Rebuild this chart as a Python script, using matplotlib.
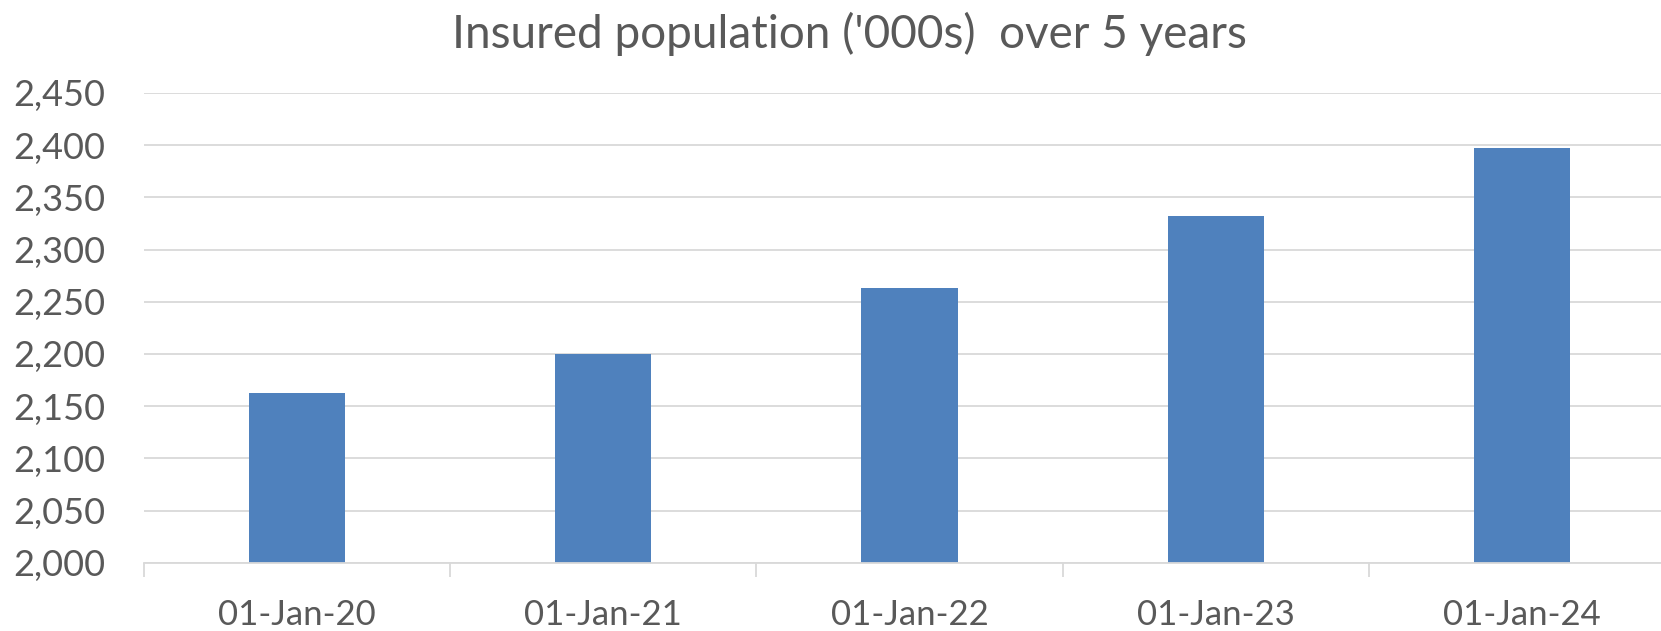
import matplotlib
matplotlib.use("Agg")
import matplotlib.pyplot as plt
from matplotlib.ticker import FuncFormatter, FixedLocator

categories = ["01-Jan-20", "01-Jan-21", "01-Jan-22", "01-Jan-23", "01-Jan-24"]
values = [2163, 2200, 2263, 2332, 2397]
title = "Insured population ('000s)  over 5 years"

plt.rcParams['font.family'] = ['Lato', 'DejaVu Sans']
text_color = "#595959"
grid_color = "#d9d9d9"
bar_color = "#4f81bd"

fig = plt.figure(figsize=(16.61, 6.31), dpi=100)
ax = fig.add_axes([144/1661, 1-562.7/631, 1531/1661, (562.7-93)/631])

x = list(range(len(categories)))
ax.bar(x, values, width=0.314, color=bar_color, zorder=3)

ax.set_xlim(-0.5, len(categories)-0.5)
ax.set_ylim(2000, 2450)
ax.set_yticks(range(2000, 2451, 50))
ax.yaxis.set_major_formatter(FuncFormatter(lambda v, p: f"{int(v):,}"))
ax.grid(axis='y', color=grid_color, linewidth=1.3, zorder=0)

ax.set_xticks(x)
ax.set_xticklabels(categories)
ax.xaxis.set_minor_locator(FixedLocator([i - 0.5 for i in range(len(categories)+1)]))
ax.tick_params(axis='x', which='major', length=0, pad=26, labelsize=25, labelcolor=text_color)
ax.tick_params(axis='x', which='minor', length=10, width=1.3, color=grid_color)
ax.tick_params(axis='y', length=0, pad=28, labelsize=26, labelcolor=text_color)

for s in ['top', 'right', 'left']:
    ax.spines[s].set_visible(False)
ax.spines['bottom'].set_color(grid_color)
ax.spines['bottom'].set_linewidth(1.3)
ax.spines['bottom'].set_zorder(4)

fig.text(849/1661, 1-34/631, title, ha='center', va='center', fontsize=33, color=text_color)

fig.savefig("out.png", dpi=100, facecolor='white')
